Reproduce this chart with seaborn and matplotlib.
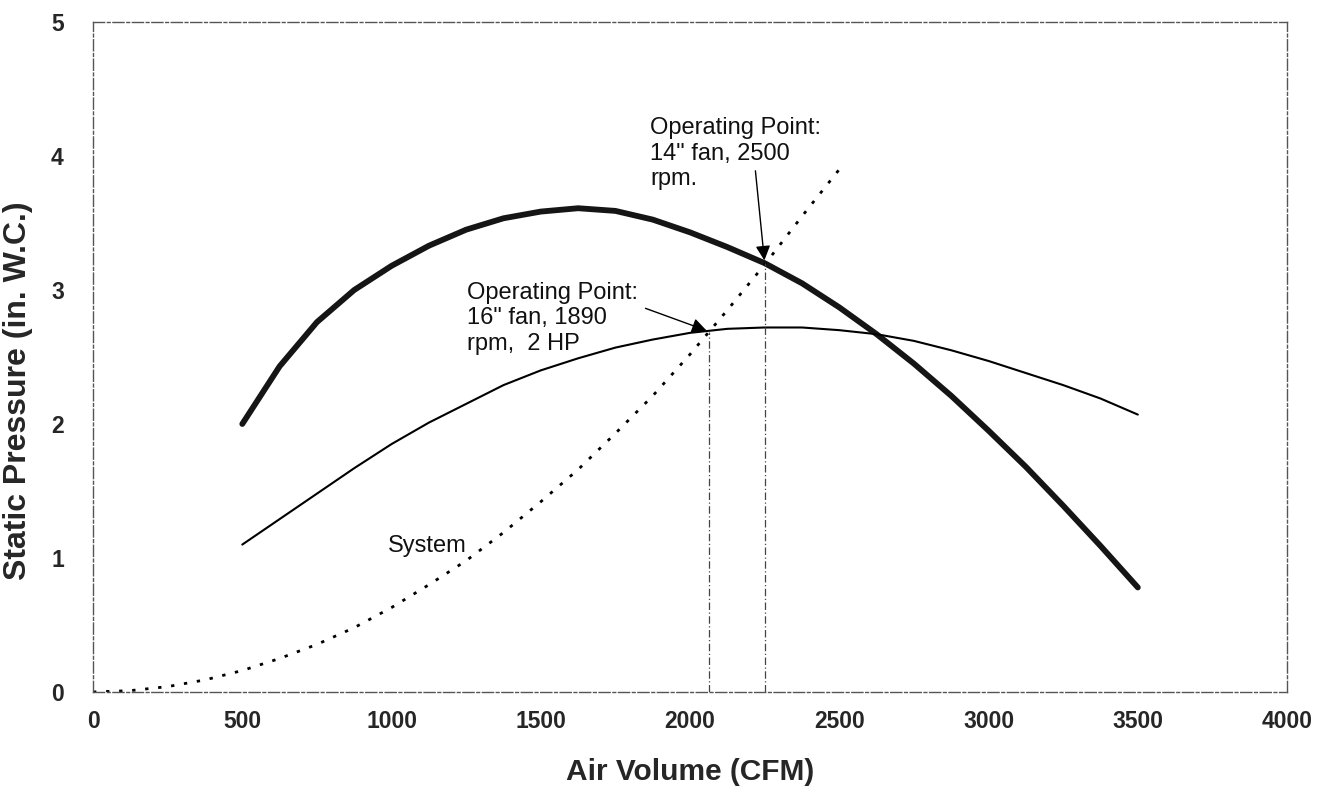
import numpy as np
import pandas as pd
import matplotlib
matplotlib.use("Agg")
from matplotlib import pyplot as plt
import seaborn as sns

# 读图得到的数据
fan_cfm = [500, 625, 750, 875, 1000, 1125, 1250, 1375, 1500, 1625, 1750, 1875, 2000,
           2125, 2250, 2375, 2500, 2625, 2750, 2875, 3000, 3125, 3250, 3375, 3500]
fan14_sp = [2.00, 2.43, 2.76, 3.00, 3.18, 3.33, 3.45, 3.535, 3.585, 3.61, 3.59, 3.525, 3.43,
            3.32, 3.20, 3.05, 2.87, 2.67, 2.45, 2.21, 1.95, 1.68, 1.39, 1.09, 0.78]
fan16_sp = [1.10, 1.29, 1.48, 1.67, 1.85, 2.01, 2.15, 2.29, 2.40, 2.49, 2.57, 2.63, 2.68,
            2.71, 2.72, 2.72, 2.70, 2.67, 2.62, 2.55, 2.47, 2.38, 2.29, 2.19, 2.07]

system_cfm = [0, 125, 250, 375, 500, 625, 750, 875, 1000, 1125, 1250, 1375, 1500,
              1625, 1750, 1875, 2000, 2125, 2250, 2375, 2500]
system_sp = [0.00, 0.01, 0.04, 0.09, 0.16, 0.25, 0.355, 0.48, 0.63, 0.80, 0.98, 1.19, 1.42,
             1.66, 1.93, 2.21, 2.52, 2.85, 3.19, 3.55, 3.90]

# 工作点 (CFM, 静压)
op16 = (2064, 2.69)
op14 = (2250, 3.20)

x_ticks = [0, 500, 1000, 1500, 2000, 2500, 3000, 3500, 4000]
y_ticks = [0, 1, 2, 3, 4, 5]

df14 = pd.DataFrame({'cfm': fan_cfm, 'sp': fan14_sp})
df16 = pd.DataFrame({'cfm': fan_cfm, 'sp': fan16_sp})
dfsys = pd.DataFrame({'cfm': system_cfm, 'sp': system_sp})

sns.set_theme(style='white')
plt.rcParams['font.family'] = ['Liberation Sans', 'DejaVu Sans']

fig = plt.figure(figsize=(13.31, 7.93), dpi=100)
ax = fig.add_axes([0.0699, 0.1274, 0.8971, 0.8449])

sns.lineplot(data=df14, x='cfm', y='sp', ax=ax, color='#151515', linewidth=4.2, sort=False)
sns.lineplot(data=df16, x='cfm', y='sp', ax=ax, color='black', linewidth=1.5, sort=False)
sns.lineplot(data=dfsys, x='cfm', y='sp', ax=ax, color='black', linewidth=2.0,
             linestyle=(0, (1.2, 3.5)), sort=False)

# 工作点竖线
for px, py in [op16, op14]:
    ax.plot([px, px], [0, py], color='#444444', linewidth=0.9, linestyle=(0, (6, 2, 1, 2)))

# 标注
ax.text(1253, 3.06, 'Operating Point:\n16" fan, 1890\nrpm,  2 HP', fontsize=17,
        ha='left', va='top', color='#111111')
ax.annotate('', xy=op16, xytext=(1842, 2.87),
            arrowprops=dict(arrowstyle='-|>', color='black', lw=1.0, mutation_scale=22))
ax.text(1866, 4.29, 'Operating Point:\n14" fan, 2500\nrpm.', fontsize=17,
        ha='left', va='top', color='#111111')
ax.annotate('', xy=op14, xytext=(2218, 3.91),
            arrowprops=dict(arrowstyle='-|>', color='black', lw=1.0, mutation_scale=22))
ax.text(988, 1.09, 'System', fontsize=17, ha='left', va='center', color='#111111')

ax.set_xlim(0, 4000)
ax.set_ylim(0, 5)
ax.set_xticks(x_ticks)
ax.set_yticks(y_ticks)
ax.set_xticklabels([str(v) for v in x_ticks], fontsize=16.5, fontweight='bold')
ax.set_yticklabels([str(v) for v in y_ticks], fontsize=16.5, fontweight='bold')
ax.tick_params(axis='both', direction='inout', length=8, width=1, color='#555555')
ax.tick_params(axis='x', pad=9)
ax.tick_params(axis='y', pad=17)
ax.set_xlabel('Air Volume (CFM)', fontsize=21.5, fontweight='bold', labelpad=18)
ax.set_ylabel('Static Pressure (in. W.C.)', fontsize=23, fontweight='bold')
ax.yaxis.set_label_coords(-0.050, 0.45)

for s in ax.spines.values():
    s.set_color('#555555')
    s.set_linewidth(1.0)
    s.set_linestyle((0, (8, 2, 2, 2)))

fig.savefig('out.png', dpi=100)
